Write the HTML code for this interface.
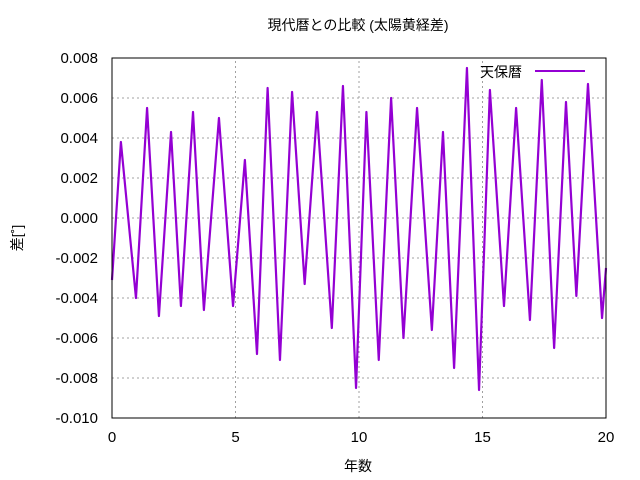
<!DOCTYPE html>
<html><head><meta charset="utf-8"><style>
body{margin:0;background:#fff;}
svg{display:block;font-family:"Liberation Sans","Noto Sans CJK JP",sans-serif;}
</style></head><body>
<svg id="chart" width="640" height="480">
<text x="358" y="30" text-anchor="middle" font-size="14">現代暦との比較 (太陽黄経差)</text>
<text x="358" y="471" text-anchor="middle" font-size="14">年数</text>
<text transform="translate(22,238) rotate(-90)" text-anchor="middle" font-size="14">差[˚]</text>
<g id="grid"></g><g id="ticks"></g>
<polyline id="series" fill="none" stroke="#9400d3" stroke-width="2.2" stroke-linejoin="round"/>
<rect x="112" y="58" width="494" height="360" fill="none" stroke="#000" stroke-width="1"/>
<g>
<text x="522" y="77" text-anchor="end" font-size="14">天保暦</text>
<line x1="535" y1="71" x2="585" y2="71" stroke="#9400d3" stroke-width="2"/>
</g>
</svg>
<script>
const years=[0,0.36,0.97,1.42,1.9,2.39,2.79,3.28,3.72,4.33,4.9,5.38,5.87,6.3,6.8,7.29,7.8,8.3,8.9,9.35,9.88,10.3,10.8,11.3,11.8,12.35,12.95,13.4,13.85,14.37,14.86,15.3,15.87,16.36,16.92,17.4,17.9,18.38,18.8,19.27,19.84,20];
const diffs=[-0.0031,0.0038,-0.0040,0.0055,-0.0049,0.0043,-0.0044,0.0053,-0.0046,0.0050,-0.0044,0.0029,-0.0068,0.0065,-0.0071,0.0063,-0.0033,0.0053,-0.0055,0.0066,-0.0085,0.0053,-0.0071,0.0060,-0.0060,0.0055,-0.0056,0.0043,-0.0075,0.0075,-0.0086,0.0064,-0.0044,0.0055,-0.0051,0.0069,-0.0065,0.0058,-0.0039,0.0067,-0.0050,-0.0025];
const xTicks=[0,5,10,15,20];
const yTicks=[-0.010,-0.008,-0.006,-0.004,-0.002,0.000,0.002,0.004,0.006,0.008];
const X0=112,X1=606,Y0=418,Y1=58;
const sx=v=>X0+(v-0)/(20-0)*(X1-X0);
const sy=v=>Y0-(v+0.010)/(0.018)*(Y0-Y1);
const NS="http://www.w3.org/2000/svg";
const grid=document.getElementById('grid'),ticks=document.getElementById('ticks');
function mk(tag,attrs,parent){const e=document.createElementNS(NS,tag);for(const k in attrs)e.setAttribute(k,attrs[k]);parent.appendChild(e);return e;}
xTicks.forEach(t=>{const x=sx(t);
 const g=mk('line',{x1:x,x2:x,y1:Y0,y2:Y1,stroke:'#a0a0a0','stroke-dasharray':'2,3'},grid);
 
 
 const l=mk('text',{x:x,y:442,'text-anchor':'middle','font-size':'15'},ticks);l.textContent=t;
 
 });
yTicks.forEach(t=>{const y=sy(t);
 const g=mk('line',{x1:X0,x2:X1,y1:y,y2:y,stroke:'#a0a0a0','stroke-dasharray':'2,3'},grid);
 
 
 const l=mk('text',{x:98,y:y+5,'text-anchor':'end','font-size':'15'},ticks);l.textContent=t.toFixed(3);
 
 });
document.getElementById('series').setAttribute('points',years.map((t,i)=>sx(t)+','+sy(diffs[i])).join(' '));
</script>
</body></html>
